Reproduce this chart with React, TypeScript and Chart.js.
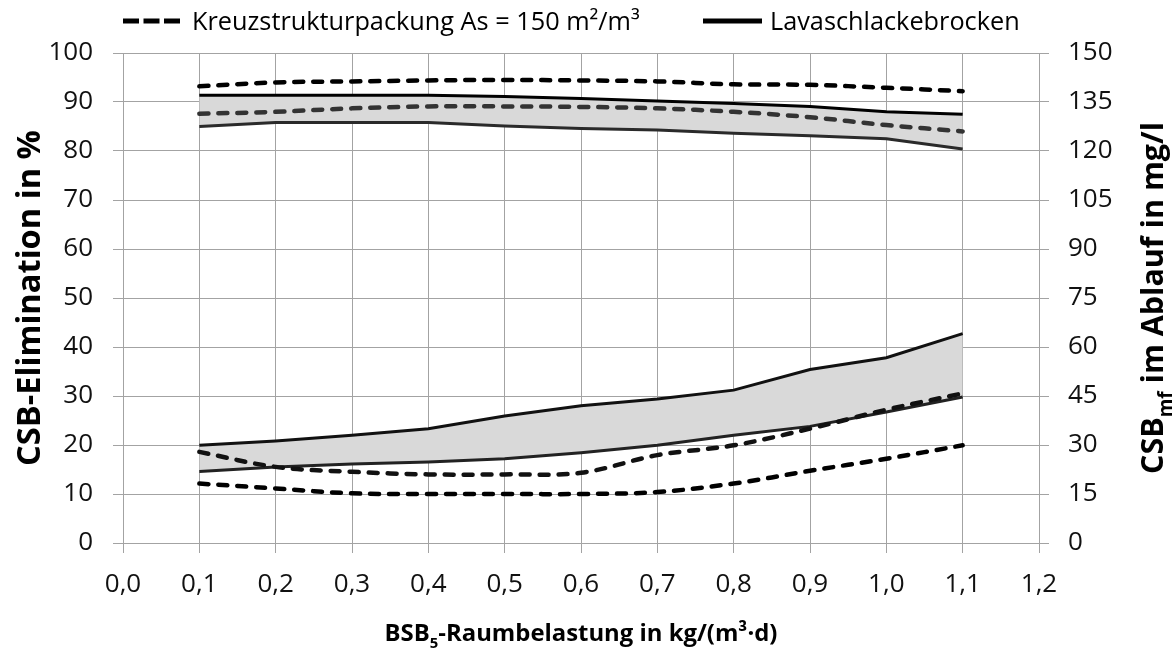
import React, { useEffect, useRef } from "react";
import { Chart, registerables } from "chart.js";

Chart.register(...registerables);

// BSB5-Raumbelastung in kg/(m³·d)
const loads = [0.1, 0.2, 0.3, 0.4, 0.5, 0.6, 0.7, 0.8, 0.9, 1.0, 1.1];

// CSB-Elimination in % (left axis)
const kreuzElimUpper = [93.2, 94.0, 94.2, 94.4, 94.5, 94.4, 94.2, 93.6, 93.5, 92.9, 92.2];
const kreuzElimLower = [87.6, 88.0, 88.7, 89.1, 89.1, 89.0, 88.7, 88.0, 86.9, 85.3, 84.0];
const lavaElimUpper = [91.4, 91.4, 91.4, 91.4, 91.1, 90.7, 90.2, 89.7, 89.1, 88.0, 87.5];
const lavaElimLower = [85.0, 85.8, 85.8, 85.8, 85.1, 84.6, 84.3, 83.6, 83.1, 82.5, 80.4];

// CSBmf im Ablauf in mg/l (right axis)
const kreuzAblaufUpper = [27.9, 23.3, 21.8, 21.0, 21.0, 21.5, 26.9, 29.9, 35.0, 40.8, 45.8];
const kreuzAblaufLower = [18.2, 16.7, 15.2, 15.0, 15.0, 15.0, 15.6, 18.2, 22.1, 25.8, 29.9];
const lavaAblaufUpper = [29.9, 31.2, 33.0, 35.0, 38.9, 42.0, 44.1, 46.8, 53.1, 56.7, 64.1];
const lavaAblaufLower = [21.9, 23.3, 24.2, 24.8, 25.8, 27.6, 29.9, 33.0, 35.7, 40.1, 44.7];

const xTickLabels = ["0,0", "0,1", "0,2", "0,3", "0,4", "0,5", "0,6", "0,7", "0,8", "0,9", "1,0", "1,1", "1,2"];

const legendKreuz = "Kreuzstrukturpackung As = 150 m²/m³";
const legendLava = "Lavaschlackebrocken";
const titleLeft = [{ t: "CSB-Elimination in %" }];
const titleRight = [{ t: "CSB" }, { t: "mf", sub: true }, { t: " im Ablauf in mg/l" }];
const titleX = [{ t: "BSB" }, { t: "5", sub: true }, { t: "-Raumbelastung in kg/(m³·d)" }];

const FAMILY = '"Open Sans", "Noto Sans", sans-serif';
const GRID = "#a3a3a3";
const FILL = "#d9d9d9";

type Seg = { t: string; sub?: boolean };

function richWidth(ctx: CanvasRenderingContext2D, segs: Seg[], size: number, weight: string) {
  let w = 0;
  for (const s of segs) {
    ctx.font = `${weight} ${s.sub ? size * 0.62 : size}px ${FAMILY}`;
    w += ctx.measureText(s.t).width;
  }
  return w;
}

function drawRich(
  ctx: CanvasRenderingContext2D,
  segs: Seg[],
  cx: number,
  cy: number,
  angle: number,
  targetW: number,
  weight: string
) {
  const base = 20;
  const size = (base * targetW) / richWidth(ctx, segs, base, weight);
  const w = richWidth(ctx, segs, size, weight);
  const cap = size * 0.714;
  ctx.save();
  ctx.translate(cx, cy);
  ctx.rotate(angle);
  ctx.fillStyle = "#000";
  ctx.textAlign = "left";
  ctx.textBaseline = "alphabetic";
  let x = -w / 2;
  for (const s of segs) {
    const sz = s.sub ? size * 0.62 : size;
    ctx.font = `${weight} ${sz}px ${FAMILY}`;
    ctx.fillText(s.t, x, cap / 2 + (s.sub ? size * 0.3 : 0));
    x += ctx.measureText(s.t).width;
  }
  ctx.restore();
  return size;
}

const textPlugin = {
  id: "customTexts",
  afterDraw(chart: any) {
    const ctx: CanvasRenderingContext2D = chart.ctx;
    const area = chart.chartArea;
    ctx.save();
    // Legend
    const ly = 21;
    const base = 20;
    const fs = (base * 448) / richWidth(ctx, [{ t: legendKreuz }], base, "400");
    const cap = fs * 0.714;
    ctx.strokeStyle = "#000";
    ctx.lineWidth = 5;
    ctx.lineCap = "butt";
    ctx.setLineDash([16, 4.5]);
    ctx.beginPath();
    ctx.moveTo(123, ly);
    ctx.lineTo(180, ly);
    ctx.stroke();
    ctx.setLineDash([]);
    ctx.beginPath();
    ctx.moveTo(703, ly);
    ctx.lineTo(762, ly);
    ctx.stroke();
    ctx.fillStyle = "#000";
    ctx.font = `400 ${fs}px ${FAMILY}`;
    ctx.textAlign = "left";
    ctx.textBaseline = "alphabetic";
    ctx.fillText(legendKreuz, 192, ly + cap / 2);
    ctx.fillText(legendLava, 770, ly + cap / 2);
    ctx.restore();

    // Axis titles
    const midY = (area.top + area.bottom) / 2;
    drawRich(ctx, titleLeft, 28, midY, -Math.PI / 2, 336, "700");
    drawRich(ctx, titleRight, 1152, midY, -Math.PI / 2, 352, "700");
    drawRich(ctx, titleX, (area.left + area.right) / 2, 632, 0, 393, "700");
  },
};

export default function App() {
  const ref = useRef<HTMLCanvasElement>(null);

  useEffect(() => {
    const canvas = ref.current;
    if (!canvas) return;
    const pts = (ys: number[]) => loads.map((x, i) => ({ x, y: ys[i] }));
    const dashed = (data: number[], axis: string, color: string) => ({
      data: pts(data),
      yAxisID: axis,
      borderColor: color,
      borderWidth: 4.5,
      borderDash: [9, 10],
      borderCapStyle: "round" as const,
      tension: 0.35,
      pointRadius: 0,
      fill: false,
    });
    const solid = (data: number[], axis: string, color: string, fill: any) => ({
      data: pts(data),
      yAxisID: axis,
      borderColor: color,
      borderWidth: 3,
      tension: 0,
      pointRadius: 0,
      fill,
      backgroundColor: FILL,
    });

    const chart = new Chart(canvas, {
      type: "line",
      data: {
        datasets: [
          { label: "Kreuz Elim oben", ...dashed(kreuzElimUpper, "y", "#000") },
          { label: "Kreuz Elim unten", ...dashed(kreuzElimLower, "y", "#333") },
          { label: "Kreuz Ablauf oben", ...dashed(kreuzAblaufUpper, "y1", "#111") },
          { label: "Kreuz Ablauf unten", ...dashed(kreuzAblaufLower, "y1", "#000") },
          { label: "Lava Elim oben", ...solid(lavaElimUpper, "y", "#000", { target: 5 }) },
          { label: "Lava Elim unten", ...solid(lavaElimLower, "y", "#2a2a2a", false) },
          { label: "Lava Ablauf oben", ...solid(lavaAblaufUpper, "y1", "#111", { target: 7 }) },
          { label: "Lava Ablauf unten", ...solid(lavaAblaufLower, "y1", "#222", false) },
        ] as any,
      },
      options: {
        responsive: false,
        animation: false,
        layout: { padding: { top: 53, left: 0, right: 0, bottom: 0 } },
        plugins: {
          legend: { display: false },
          title: { display: false },
          tooltip: { enabled: false },
          filler: { drawTime: "beforeDatasetsDraw" },
        } as any,
        scales: {
          x: {
            type: "linear",
            min: 0,
            max: 1.2,
            ticks: {
              stepSize: 0.1,
              padding: 16,
              color: "#111",
              font: { family: FAMILY, size: 26 },
              callback: (_v: any, i: number) => xTickLabels[i],
            },
            grid: { color: GRID, lineWidth: 1, tickLength: 10 },
            border: { color: GRID, width: 1 },
            afterFit: (s: any) => {
              s.height = 112;
            },
          },
          y: {
            type: "linear",
            position: "left",
            min: 0,
            max: 100,
            ticks: {
              stepSize: 10,
              padding: 20,
              color: "#111",
              font: { family: FAMILY, size: 26 },
            },
            grid: { color: GRID, lineWidth: 1, tickLength: 10 },
            border: { color: GRID, width: 1 },
            afterFit: (s: any) => {
              s.width = 123;
            },
          },
          y1: {
            type: "linear",
            position: "right",
            min: 0,
            max: 150,
            ticks: {
              stepSize: 15,
              padding: 19,
              color: "#111",
              font: { family: FAMILY, size: 26 },
            },
            grid: { color: GRID, lineWidth: 1, tickLength: 10, drawOnChartArea: false },
            border: { color: GRID, width: 1 },
            afterFit: (s: any) => {
              s.width = 133;
            },
          },
        } as any,
      },
      plugins: [textPlugin],
    });
    return () => chart.destroy();
  }, []);

  return (
    <div style={{ position: "fixed", left: 0, top: 0, width: 1172, height: 655, background: "#fff" }}>
      <canvas ref={ref} width={1172} height={655} style={{ display: "block" }} />
    </div>
  );
}
